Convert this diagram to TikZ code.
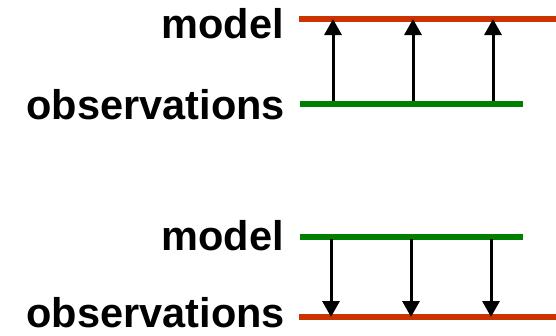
\documentclass[tikz,border=0pt]{standalone}
\usepackage{fontspec}
\setmainfont{Liberation Sans}
\usetikzlibrary{arrows.meta}
\definecolor{modred}{HTML}{CC3300}
\definecolor{obsgreen}{HTML}{008000}
\begin{document}
\begin{tikzpicture}[x=1pt,y=-1pt,
  lbl/.style={anchor=base east,inner sep=0pt,text depth=0pt,font=\fontsize{41.5}{44}\selectfont\bfseries},
  redline/.style={draw=modred,line width=6pt,-{Triangle[width=17pt,length=14pt]}},
  greenline/.style={draw=obsgreen,line width=5.5pt},
  vec/.style={draw=black,line width=3pt,-{Triangle[width=17pt,length=16pt]}}]
\useasboundingbox (0,0) rectangle (556,335);
% labels
\node[lbl] (m1) at (284,38) {model};
\node[lbl] (o1) at (285,119) {observations};
\node[lbl] (m2) at (284,250) {model};
\node[lbl] (o2) at (285,327) {observations};
% line end points
\coordinate (r1a) at (299,19);
\coordinate (r1b) at (570,19);
\coordinate (g1a) at (300,104);
\coordinate (g1b) at (523,104);
\coordinate (g2a) at (300,237);
\coordinate (g2b) at (523,237);
\coordinate (r2a) at (299,317);
\coordinate (r2b) at (570,317);
% model/observation lines (arrowheads cut by the right edge)
\begin{scope}
\clip (0,0) rectangle (556,335);
\draw[redline] (r1a) -- (r1b);
\draw[redline] (r2a) -- (r2b);
\end{scope}
\draw[greenline] (g1a) -- (g1b);
\draw[greenline] (g2a) -- (g2b);
% top panel: observations -> model
\foreach \x/\n in {333/a,413/b,493/c}{
  \coordinate (u\n s) at (\x,101);
  \coordinate (u\n e) at (\x,19);
  \draw[vec] (u\n s) -- (u\n e);
}
% bottom panel: model -> observations
\foreach \x/\n in {331/a,411/b,491/c}{
  \coordinate (d\n s) at (\x,239);
  \coordinate (d\n e) at (\x,317);
  \draw[vec] (d\n s) -- (d\n e);
}
\end{tikzpicture}
\end{document}
